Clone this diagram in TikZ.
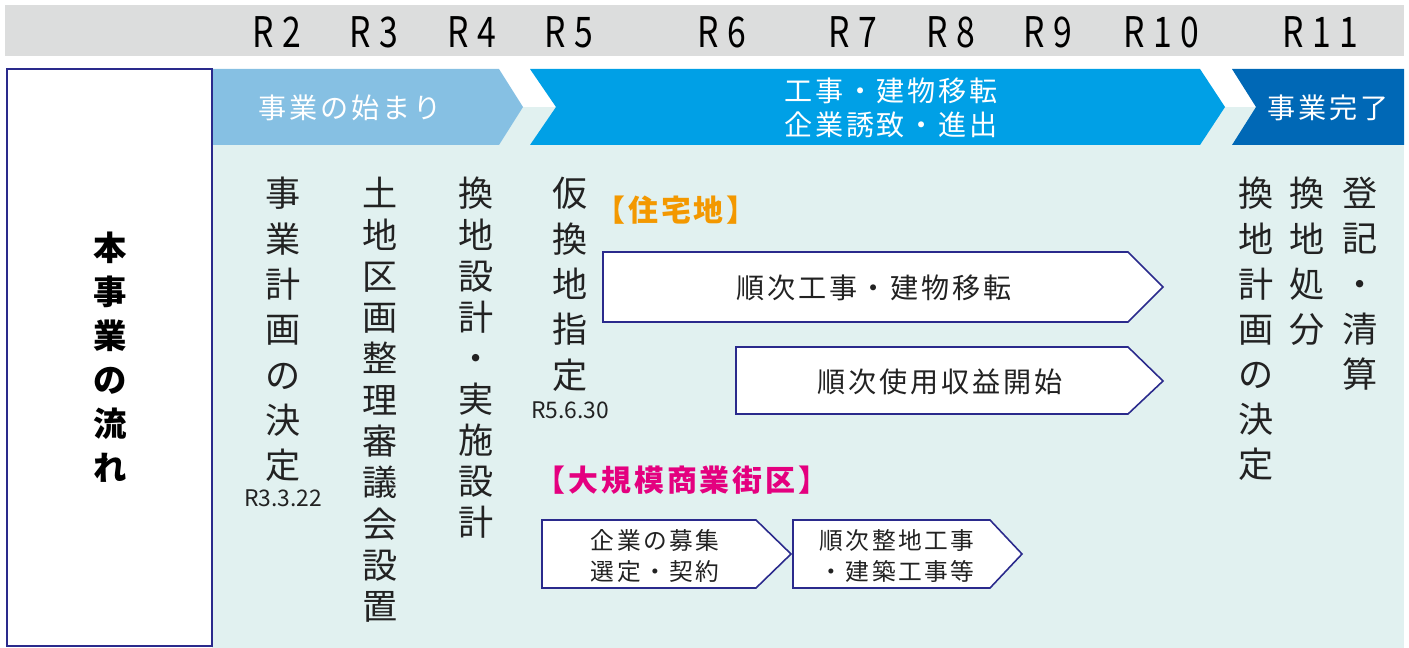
\documentclass[tikz,border=0pt]{standalone}
\usepackage{fontspec}
\setmainfont{Noto Sans CJK JP}
\newfontfamily\jp{Noto Sans CJK JP}
\newfontfamily\jpsp[LetterSpace=10]{Noto Sans CJK JP}
\newfontfamily\yearfont[LetterSpace=25]{Noto Sans CJK JP}
\definecolor{hdrgray}{HTML}{DCDDDD}
\definecolor{bgteal}{HTML}{E1F1F0}
\definecolor{banlight}{HTML}{86C0E3}
\definecolor{banmid}{HTML}{00A0E6}
\definecolor{bandark}{HTML}{0068B6}
\definecolor{navy}{HTML}{2A2A8C}
\definecolor{txtgray}{HTML}{222222}
\definecolor{lblorange}{HTML}{F39800}
\definecolor{lblpink}{HTML}{E4007F}
\begin{document}
\begin{tikzpicture}[x=0.02cm,y=-0.02cm,
    yearlbl/.style={inner sep=0pt,text=black,font=\yearfont\fontsize{24}{26}\selectfont},
    vcol/.style={anchor=north,align=center,inner sep=0pt,text=txtgray,
        font=\jp\fontsize{20}{#1}\selectfont},
    vcol/.default=25.8,
    datelbl/.style={inner sep=0pt,text=txtgray,font=\jp\fontsize{13}{15}\selectfont},
    bantxt/.style={inner sep=0pt,text=white,align=center,font=\jpsp\fontsize{16}{19.5}\selectfont},
    arrowbox/.style={draw=navy,line width=0.9pt,fill=white,line join=miter},
    boxtxt/.style={inner sep=0pt,text=txtgray,align=center,font=\jpsp\fontsize{16}{18}\selectfont},
    smallbox/.style={inner sep=0pt,text=txtgray,align=center,font=\jpsp\fontsize{13.5}{18}\selectfont},
    sectlbl/.style={inner sep=0pt,font=\jpsp\bfseries\fontsize{17}{18}\selectfont}]
\useasboundingbox (0,0) rectangle (1409,648);

% background and header
\fill[bgteal] (212,107) rectangle (1404,648);
\fill[hdrgray] (5,5) rectangle (1404,56);
\foreach \xx/\yy in {277/2,374/3,472/4,569/5,722/6,853/7,951/8,1048/9,1161/10,1320/11}
    \node[yearlbl] (r\yy) at (\xx,32) {\scalebox{0.8}[1]{R\yy}};

% phase banners
\fill[banlight] (212,69) -- (499,69) -- (523,107) -- (499,145) -- (212,145) -- cycle;
\fill[banmid] (530,69) -- (1200,69) -- (1225,107) -- (1200,145) -- (530,145) -- (556,107) -- cycle;
\fill[bandark] (1232,69) -- (1404,69) -- (1404,145) -- (1232,145) -- (1256,107) -- cycle;
\node[bantxt] (start) at (350,108) {事業の始まり};
\node[bantxt] (works) at (891,108) {工事・建物移転\\企業誘致・進出};
\node[bantxt] (finish) at (1328,108) {事業完了};

% left title box
\draw[navy,line width=1.6pt,fill=white] (7,69) rectangle (212,646);
\node[vcol,font=\jp\bfseries\fontsize{19}{25}\selectfont,text=black] (title) at (110,232)
    {本\\事\\業\\の\\流\\れ};

% milestones
\node[vcol] (plan) at (283,177) {事\\業\\計\\画\\の\\決\\定};
\node[datelbl] (plandate) at (283,498) {R3.3.22};
\node[vcol=23.5] (council) at (380,177) {土\\地\\区\\画\\整\\理\\審\\議\\会\\設\\置};
\node[vcol=23.4] (design) at (476,177) {換\\地\\設\\計\\・\\実\\施\\設\\計};
\node[vcol] (kari) at (570,177) {仮\\換\\地\\指\\定};
\node[datelbl] (karidate) at (570,410) {R5.6.30};
\node[vcol=25.7] (kanchi) at (1256,177) {換\\地\\計\\画\\の\\決\\定};
\node[vcol=25.7] (shobun) at (1307,177) {換\\地\\処\\分};
\node[vcol=25.7] (toki) at (1360,177) {登\\記\\・\\清\\算};

% housing area
\node[sectlbl,text=lblorange] (housing) at (676,210) {【住宅地】};
\draw[arrowbox] (603,252) -- (1128,252) -- (1163,287) -- (1128,322) -- (603,322) -- cycle;
\node[boxtxt] (works1) at (874,288) {順次工事・建物移転};
\draw[arrowbox] (736,347) -- (1128,347) -- (1163,381) -- (1128,414) -- (736,414) -- cycle;
\node[boxtxt] (use1) at (940,382) {順次使用収益開始};

% commercial area
\node[sectlbl,text=lblpink] (commerce) at (682,480) {【大規模商業街区】};
\draw[arrowbox] (542,520) -- (756,520) -- (791,554) -- (756,588) -- (542,588) -- cycle;
\node[smallbox] (recruit) at (655,556) {企業の募集\\選定・契約};
\draw[arrowbox] (793,520) -- (990,520) -- (1022,554) -- (990,588) -- (793,588) -- cycle;
\node[smallbox] (build) at (897,556) {順次整地工事\\・建築工事等};
\end{tikzpicture}
\end{document}
